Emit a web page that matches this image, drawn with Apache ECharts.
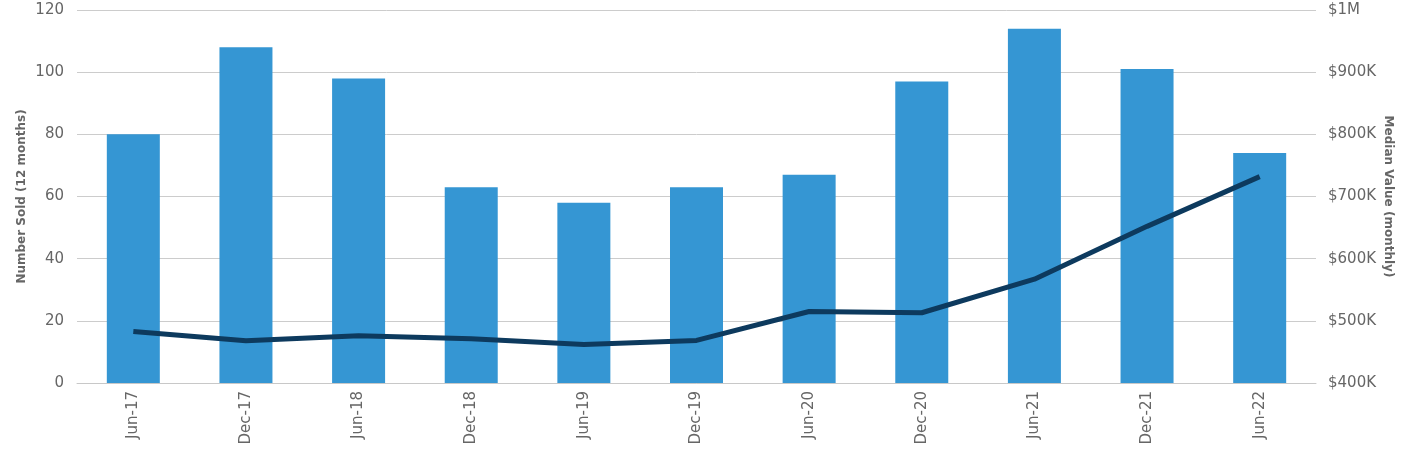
<!DOCTYPE html>
<html>
<head>
<meta charset="utf-8">
<script src="https://cdn.jsdelivr.net/npm/echarts@6/dist/echarts.min.js"></script>
<style>html,body{margin:0;padding:0;background:#fff}#c{width:1412px;height:459px}</style>
</head>
<body>
<div id="c"></div>
<script>
const categories = ['Jun-17','Dec-17','Jun-18','Dec-18','Jun-19','Dec-19','Jun-20','Dec-20','Jun-21','Dec-21','Jun-22'];
const numberSold = [80,108,98,63,58,63,67,97,114,101,74];
const medianValue = [483000,468000,476000,471000,462000,468500,515000,513000,567000,652000,732000];
const leftTicks = {min:0,max:120,interval:20};
const rightTicks = {min:400000,max:1000000,interval:100000};

const chart = echarts.init(document.getElementById('c'));
const font = 'DejaVu Sans';
chart.setOption({
  animation:false,
  textStyle:{fontFamily:font},
  grid:{left:77,right:96,top:10,bottom:76},
  xAxis:{
    type:'category',data:categories,
    axisLine:{lineStyle:{color:'#c8c8c8',width:1}},
    axisTick:{alignWithLabel:true,length:5,lineStyle:{color:'#c8c8c8'}},
    axisLabel:{rotate:90,color:'#666',fontSize:15,fontFamily:font,margin:8}
  },
  yAxis:[{
    type:'value',min:leftTicks.min,max:leftTicks.max,interval:leftTicks.interval,
    name:'Number Sold (12 months)',nameLocation:'middle',nameGap:49,nameMoveOverlap:false,
    nameTextStyle:{color:'#666',fontSize:12,fontWeight:'bold',fontFamily:font},
    axisLine:{show:false},axisTick:{show:false},
    axisLabel:{color:'#666',fontSize:15,fontFamily:font,margin:13},
    splitLine:{lineStyle:{color:'#cccccc',width:1}}
  },{
    type:'value',min:rightTicks.min,max:rightTicks.max,interval:rightTicks.interval,
    position:'right',
    name:'Median Value (monthly)',nameLocation:'middle',nameGap:66,nameRotate:-90,nameMoveOverlap:false,
    nameTextStyle:{color:'#666',fontSize:12,fontWeight:'bold',fontFamily:font},
    axisLine:{show:false},axisTick:{show:false},
    axisLabel:{color:'#666',fontSize:15,fontFamily:font,margin:12,
      formatter:v=> v>=1000000 ? '$'+(v/1000000)+'M' : '$'+(v/1000)+'K'},
    splitLine:{show:false}
  }],
  series:[{
    type:'bar',data:numberSold,barWidth:53,yAxisIndex:0,
    itemStyle:{color:'#3596d3'}
  },{
    type:'line',data:medianValue,yAxisIndex:1,showSymbol:false,symbol:'none',
    lineStyle:{color:'#0d3a5e',width:5},z:5
  }]
});
</script>
</body>
</html>
